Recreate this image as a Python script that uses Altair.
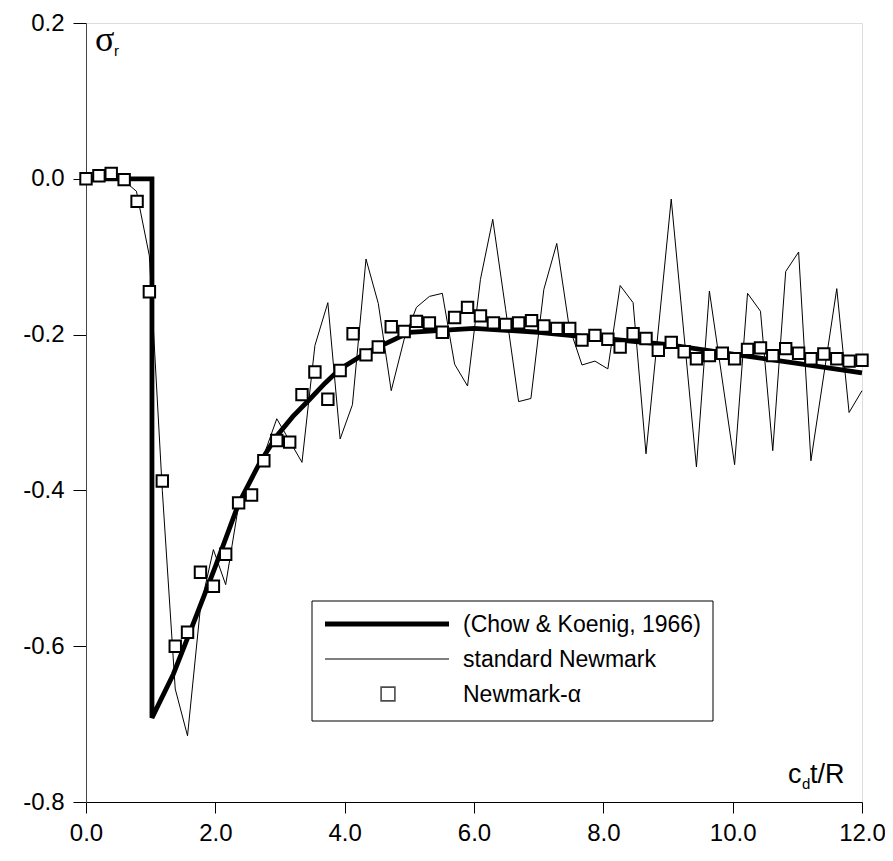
import altair as alt
import pandas as pd

# Analytical solution (Chow & Koenig, 1966)
chow_x = [0, 1.02, 1.02, 1.35, 1.71, 2.0, 2.36, 2.69, 2.95, 3.2, 3.46, 3.7, 3.93,
          4.34, 5.0, 6.0, 7.0, 8.0, 9.0, 10.0, 11.0, 12.0]
chow_y = [0, 0, -0.692, -0.636, -0.56, -0.498, -0.417, -0.364, -0.33, -0.305, -0.283,
          -0.262, -0.244, -0.223, -0.197, -0.192, -0.197, -0.205, -0.213, -0.225,
          -0.237, -0.249]

# standard Newmark (vertices of the oscillating curve)
std_x = [0, 0.2, 0.4, 0.61, 0.78, 0.98, 1.18, 1.38, 1.57, 1.77, 1.97, 2.16, 2.36,
         2.56, 2.75, 2.95, 3.34, 3.54, 3.74, 3.93, 4.12, 4.33, 4.52, 4.72, 4.92,
         5.11, 5.31, 5.51, 5.70, 5.90, 6.10, 6.29, 6.49, 6.69, 6.88, 7.08, 7.28,
         7.47, 7.67, 7.87, 8.07, 8.26, 8.46, 8.66, 9.05, 9.44, 9.64, 10.03, 10.23,
         10.43, 10.62, 10.82, 11.02, 11.21, 11.61, 11.80, 12.0]
std_y = [0, 0, 0, -0.004, -0.016, -0.099, -0.40, -0.655, -0.715, -0.55, -0.476,
         -0.521, -0.419, -0.385, -0.355, -0.308, -0.364, -0.214, -0.159, -0.334,
         -0.29, -0.103, -0.16, -0.272, -0.206, -0.165, -0.151, -0.147, -0.238,
         -0.266, -0.129, -0.052, -0.168, -0.286, -0.282, -0.142, -0.083, -0.189,
         -0.239, -0.234, -0.244, -0.137, -0.159, -0.353, -0.026, -0.37, -0.144,
         -0.367, -0.147, -0.170, -0.349, -0.119, -0.094, -0.362, -0.141, -0.30,
         -0.272]

# Newmark-alpha (square markers)
alpha_x = [0, 0.20, 0.39, 0.59, 0.79, 0.98, 1.18, 1.38, 1.57, 1.77, 1.97, 2.16,
           2.36, 2.56, 2.75, 2.95, 3.15, 3.34, 3.54, 3.74, 3.93, 4.13, 4.33, 4.52,
           4.72, 4.92, 5.11, 5.31, 5.51, 5.70, 5.90, 6.10, 6.30, 6.49, 6.69, 6.89,
           7.08, 7.28, 7.48, 7.67, 7.87, 8.07, 8.26, 8.46, 8.66, 8.85, 9.05, 9.25,
           9.44, 9.64, 9.84, 10.03, 10.23, 10.43, 10.62, 10.82, 11.02, 11.21, 11.41,
           11.61, 11.80, 12.00]
alpha_y = [0.000, 0.004, 0.007, -0.001, -0.029, -0.145, -0.388, -0.600, -0.582,
           -0.505, -0.523, -0.482, -0.416, -0.406, -0.362, -0.336, -0.338, -0.277,
           -0.248, -0.283, -0.246, -0.199, -0.226, -0.216, -0.190, -0.196, -0.183,
           -0.185, -0.197, -0.178, -0.165, -0.176, -0.185, -0.187, -0.185, -0.182,
           -0.189, -0.192, -0.192, -0.207, -0.201, -0.206, -0.216, -0.199, -0.205,
           -0.220, -0.210, -0.222, -0.231, -0.227, -0.224, -0.231, -0.219, -0.217,
           -0.227, -0.218, -0.224, -0.231, -0.225, -0.231, -0.234, -0.233]

x_ticks = [0, 2, 4, 6, 8, 10, 12]
y_ticks = [-0.8, -0.6, -0.4, -0.2, 0.0, 0.2]

legend_labels = ["(Chow & Koenig, 1966)", "standard Newmark", "Newmark-\u03b1"]

chow = pd.DataFrame({"x": chow_x, "y": chow_y, "o": range(len(chow_x))})
std = pd.DataFrame({"x": std_x, "y": std_y, "o": range(len(std_x))})
alpha = pd.DataFrame({"x": alpha_x, "y": alpha_y})

FONT = "Liberation Sans"
W, H = 776, 779

label_expr = "datum.value < 0 ? '-' + format(-datum.value, '.1f') : format(datum.value, '.1f')"

xscale = alt.Scale(domain=[0, 12], nice=False, zero=False)
yscale = alt.Scale(domain=[-0.8, 0.2], nice=False, zero=False)

xenc = alt.X("x:Q", scale=xscale, title=None,
             axis=alt.Axis(values=x_ticks, labelExpr=label_expr, grid=False,
                           tickSize=11, labelPadding=8, labelFontSize=24,
                           labelFont=FONT, labelColor="black", domainColor="black",
                           tickColor="black", labelFlush=False))
yenc = alt.Y("y:Q", scale=yscale, title=None,
             axis=alt.Axis(values=y_ticks, labelExpr=label_expr, grid=False,
                           tickSize=13, labelPadding=9, labelFontSize=24,
                           labelFont=FONT, labelColor="black", domainColor="#444444",
                           tickColor="black", labelFlush=False))

std_line = alt.Chart(std).mark_line(color="black", strokeWidth=1).encode(
    x=xenc, y=yenc, order="o:Q")
chow_line = alt.Chart(chow).mark_line(color="black", strokeWidth=4.8,
                                      strokeJoin="miter").encode(
    x="x:Q", y="y:Q", order="o:Q")
alpha_pts = alt.Chart(alpha).mark_point(shape="square", filled=False, fill="white",
                                        fillOpacity=1, color="black", size=130,
                                        strokeWidth=2, opacity=1).encode(
    x="x:Q", y="y:Q")

# legend (pixel positions inside plot area)
lx0, lx1, ly0, ly1 = 226, 627, 578, 698
rows = [601, 636, 671]
one = pd.DataFrame({"a": [0]})
leg_box = alt.Chart(one).mark_rect(
    fill="white", stroke="black", strokeWidth=1).encode(
    x=alt.value(lx0), x2=alt.value(lx1), y=alt.value(ly0), y2=alt.value(ly1))
leg_thick = alt.Chart(one).mark_rule(
    color="black", strokeWidth=4.8).encode(
    x=alt.value(239), x2=alt.value(363), y=alt.value(rows[0]))
leg_thin = alt.Chart(one).mark_rule(
    color="black", strokeWidth=1.2).encode(
    x=alt.value(239), x2=alt.value(363), y=alt.value(rows[1]))
leg_sq = alt.Chart(one).mark_point(
    shape="square", filled=False, color="black", size=190, strokeWidth=1.6).encode(
    x=alt.value(302), y=alt.value(rows[2]))
leg_txt = [
    alt.Chart(pd.DataFrame({"t": [legend_labels[i]]})).mark_text(
        align="left", baseline="middle", font=FONT, fontSize=23, color="black").encode(
        x=alt.value(377), y=alt.value(rows[i] + 1), text="t:N")
    for i in range(3)
]

# axis titles
sig = alt.Chart(pd.DataFrame({"t": ["\u03c3"]})).mark_text(
    align="left", baseline="alphabetic", font="Liberation Serif", fontSize=36,
    color="black").encode(x=alt.value(9), y=alt.value(28), text="t:N")
sig_r = alt.Chart(pd.DataFrame({"t": ["r"]})).mark_text(
    align="left", baseline="alphabetic", font=FONT, fontSize=15,
    color="black").encode(x=alt.value(28), y=alt.value(33), text="t:N")
xt_c = alt.Chart(pd.DataFrame({"t": ["c"]})).mark_text(
    align="left", baseline="alphabetic", font=FONT, fontSize=27,
    color="black").encode(x=alt.value(702), y=alt.value(760), text="t:N")
xt_d = alt.Chart(pd.DataFrame({"t": ["d"]})).mark_text(
    align="left", baseline="alphabetic", font=FONT, fontSize=15,
    color="black").encode(x=alt.value(716), y=alt.value(766), text="t:N")
xt_r = alt.Chart(pd.DataFrame({"t": ["t/R"]})).mark_text(
    align="left", baseline="alphabetic", font=FONT, fontSize=27,
    color="black").encode(x=alt.value(724), y=alt.value(760), text="t:N")

chart = alt.layer(std_line, chow_line, alpha_pts, leg_box, leg_thick, leg_thin,
                  leg_sq, *leg_txt, sig, sig_r, xt_c, xt_d, xt_r).properties(
    width=W, height=H,
    autosize=alt.AutoSizeParams(type="none"),
    padding={"left": 78, "top": 15, "right": 23, "bottom": 44},
).configure_view(stroke=None).configure(background="white")

chart.save("out.html", embed_options={"renderer": "svg", "actions": False})
